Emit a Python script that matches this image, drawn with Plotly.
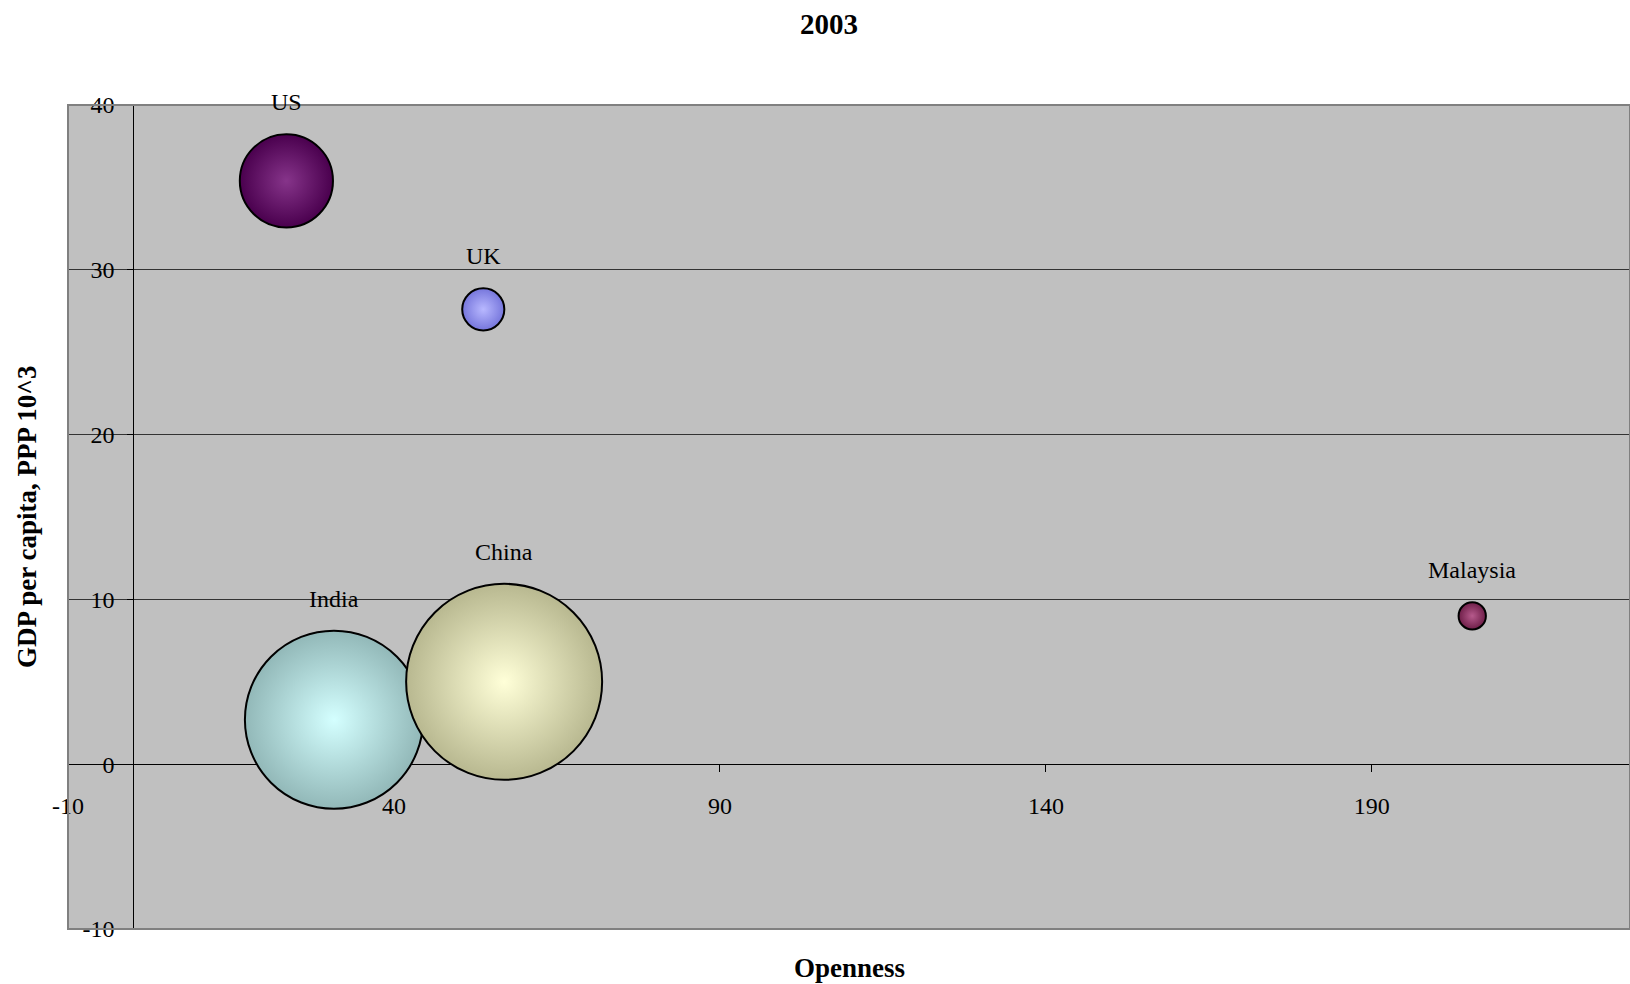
import math
import plotly.graph_objects as go

# ---- data ----
countries = ["US", "India", "China", "UK", "Malaysia"]
openness = [23.5, 30.8, 56.9, 53.7, 205.4]
gdp_pc = [35.4, 2.7, 5.0, 27.6, 9.0]
population = [291, 1064, 1288, 59.5, 25]

x_ticks = [-10, 40, 90, 140, 190, 240]
y_ticks = [-10, 0, 10, 20, 30, 40]

# ---- style ----
edge_colors = ["#4a004e", "#92b8b8", "#b8b890", "#7676dc", "#6e1e48"]
center_colors = ["#86348a", "#d4ffff", "#ffffd8", "#b8b8ff", "#b65a8c"]
FONT = "Liberation Serif"
SIZEREF = 1288 / (2 * 98 ** 2)

W, H = 1630, 984

fig = go.Figure()
for i, c in enumerate(countries):
    fig.add_trace(go.Scatter(
        x=[openness[i]], y=[gdp_pc[i]], mode="markers", name=c,
        marker=dict(size=[population[i]], sizemode="area", sizeref=SIZEREF,
                    color=edge_colors[i],
                    gradient=dict(type="radial", color=center_colors[i]),
                    line=dict(color="black", width=2), opacity=1),
        hovertemplate=c + "<br>Openness: %{x}<br>GDP: %{y}<extra></extra>",
    ))

annotations = []
for i, c in enumerate(countries):
    r = math.sqrt(population[i] / (2 * SIZEREF))
    annotations.append(dict(x=openness[i], y=gdp_pc[i], xref="x", yref="y",
                            text=c, showarrow=False, yanchor="middle",
                            yshift=r + 32, font=dict(family=FONT, size=24, color="black")))
annotations.append(dict(x=0.5, y=-0.047, xref="paper", yref="paper", text="<b>Openness</b>",
                        showarrow=False, yanchor="middle",
                        font=dict(family=FONT, size=27, color="black")))
annotations.append(dict(x=-0.0263, y=0.5, xref="paper", yref="paper",
                        text="<b>GDP per capita, PPP 10^3</b>", textangle=-90,
                        showarrow=False, xanchor="center", yanchor="middle",
                        font=dict(family=FONT, size=27, color="black")))

xmin, xmax = -10, 229.6
ymin, ymax = -10, 40

fig.update_layout(
    width=W, height=H,
    margin=dict(l=68, r=0, t=105, b=55),
    paper_bgcolor="white", plot_bgcolor="#c0c0c0",
    showlegend=False,
    title=dict(text="<b>2003</b>", x=829 / W, xref="container", xanchor="center",
               y=1 - 24 / H, yref="container", yanchor="middle",
               font=dict(family=FONT, size=29, color="black")),
    xaxis=dict(range=[xmin, xmax], tickmode="array", tickvals=x_ticks,
               ticktext=[str(v) for v in x_ticks],
               anchor="free", position=(0 - ymin) / (ymax - ymin),
               showline=True, linecolor="black", linewidth=1,
               ticks="outside", ticklen=7, tickcolor="black", tickwidth=1,
               ticklabelstandoff=13,
               showgrid=False, zeroline=False, layer="below traces",
               tickfont=dict(family=FONT, size=24, color="black")),
    yaxis=dict(range=[ymin, ymax], tickmode="array", tickvals=y_ticks,
               ticktext=[str(v) for v in y_ticks],
               anchor="free", position=(0 - xmin) / (xmax - xmin),
               showline=True, linecolor="black", linewidth=1,
               ticks="outside", ticklen=6, tickcolor="black", tickwidth=1,
               ticklabelstandoff=8,
               showgrid=True, gridcolor="#333333", gridwidth=1,
               zeroline=False, layer="below traces",
               tickfont=dict(family=FONT, size=24, color="black")),
    annotations=annotations,
    shapes=[dict(type="rect", xref="paper", yref="paper", x0=0, x1=1, y0=0, y1=1,
                 line=dict(color="#808080", width=2), fillcolor="rgba(0,0,0,0)",
                 layer="above")],
)

fig.write_html(
    "out.html",
    config={"displayModeBar": False},
    post_script="document.body.style.margin='0';document.body.style.overflow='hidden';",
)
